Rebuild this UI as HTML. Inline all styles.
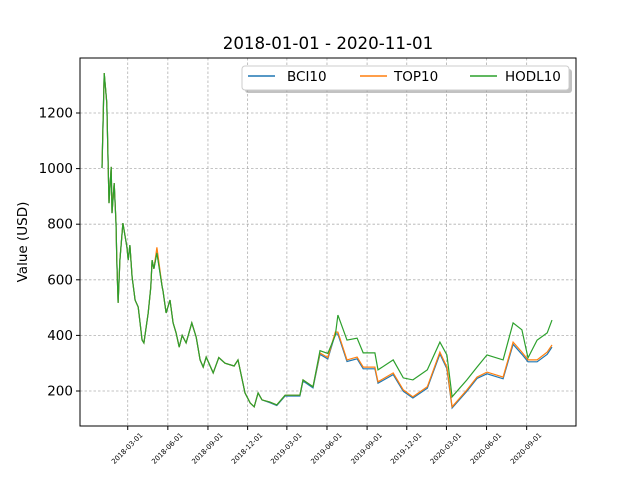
<!DOCTYPE html>
<html><head><meta charset="utf-8"><style>
body{margin:0;background:#fff;}
svg{display:block;font-family:"DejaVu Sans","Liberation Sans",sans-serif;}
</style></head><body>
<svg id="chart" width="640" height="480">
<rect width="640" height="480" fill="#fff"/>
<text x="328" y="49" font-size="16.7" text-anchor="middle">2018-01-01 - 2020-11-01</text>
<text transform="translate(27,242) rotate(-90)" font-size="13.5" text-anchor="middle">Value (USD)</text>
<g id="grid"></g><g id="series"></g><g id="axes"></g>
<g>
<rect x="245" y="69" width="327" height="24" rx="3" fill="#999" opacity="0.6"/>
<rect x="242" y="66" width="327" height="24" rx="3" fill="#fff" stroke="#ccc"/>
<line x1="248" y1="76" x2="275" y2="76" stroke="#1f77b4" stroke-width="1.5"/>
<text x="287" y="81" font-size="13.5">BCI10</text>
<line x1="360" y1="76" x2="387" y2="76" stroke="#ff7f0e" stroke-width="1.5"/>
<text x="394" y="81" font-size="13.5">TOP10</text>
<line x1="470" y1="76" x2="497" y2="76" stroke="#2ca02c" stroke-width="1.5"/>
<text x="505" y="81" font-size="13.5">HODL10</text>
</g>
</svg>
<script>
const days=[0,5,11,16,21,23,28,32,34,37,41,48,57,60,64,69,76,83,92,96,106,112,115,119,126,138,140,147,156,163,170,177,184,193,206,216,225,232,239,255,268,282,303,312,328,340,349,358,367,385,401,420,454,461,484,500,518,535,541,562,585,599,626,633,668,691,713,746,775,791,803,837,860,883,920,943,963,977,998,1021,1032];
const top10=[1002,1344,1236,876,1006,840,948,804,671,517,671,804,718,671,725,610,527,502,383,373,481,574,671,640,717,574,560,481,527,445,409,358,400,373,445,394,312,286,322,265,320,300,290,312,193,157,143,193,168,160,150,185,185,240,215,337,320,412,412,312,322,286,286,233,265,204,179,215,340,286,143,204,250,268,250,376,340,312,312,340,366];
const bci10=[1002,1344,1236,876,1006,840,948,804,671,517,671,804,718,671,725,610,527,502,383,373,481,574,671,640,700,574,560,481,527,445,409,358,400,373,445,394,312,286,322,265,320,300,290,312,193,157,143,193,168,158,148,182,182,236,211,332,315,405,405,306,316,280,280,228,259,199,175,210,333,280,139,199,245,262,244,368,332,305,305,332,358];
const hodl10=[1002,1344,1236,876,1006,840,948,804,671,517,671,804,718,671,725,610,527,502,383,373,481,574,671,640,696,574,560,481,527,445,409,358,400,373,445,394,312,286,322,265,320,300,290,312,193,157,143,193,168,160,150,185,185,240,215,345,335,400,473,383,390,337,337,276,312,247,240,276,376,330,179,240,286,330,312,445,420,319,383,409,455];
const yTicks=[200,400,600,800,1000,1200];
const xTickDays=[59,151,243,334,424,516,608,699,790,882,974];
const xTickLabels=["2018-03-01","2018-06-01","2018-09-01","2018-12-01","2019-03-01","2019-06-01","2019-09-01","2019-12-01","2020-03-01","2020-06-01","2020-09-01"];
const NS="http://www.w3.org/2000/svg";
const L=80,R=576,T=58,B=426;
function xs(d){return 102+d*0.436;}
function ys(v){return 113+(1200-v)*0.278;}
function mk(tag,attrs,parent){const e=document.createElementNS(NS,tag);for(const k in attrs)e.setAttribute(k,attrs[k]);parent.appendChild(e);return e;}
const grid=document.getElementById('grid'),axes=document.getElementById('axes'),ser=document.getElementById('series');
yTicks.forEach(v=>{const y=ys(v);
const g=mk('line',{x1:L,x2:R,y1:y,y2:y,stroke:'#b0b0b0','stroke-width':0.8,'stroke-dasharray':'2.5,2'},grid);


mk('line',{x1:L-4,x2:L,y1:y,y2:y,stroke:'#000'},axes);
const t=mk('text',{x:L-7,y:y+4.5,'font-size':13.5,'text-anchor':'end'},axes);t.textContent=v;


});
xTickDays.forEach((d,i)=>{const x=xs(d);
const g=mk('line',{x1:x,x2:x,y1:T,y2:B,stroke:'#b0b0b0','stroke-width':0.8,'stroke-dasharray':'2.5,2'},grid);


mk('line',{x1:x,x2:x,y1:B,y2:B+4,stroke:'#000'},axes);
const t=mk('text',{transform:`translate(${x+1},${B+24}) rotate(-45)`,'font-size':7,'text-anchor':'middle'},axes);t.textContent=xTickLabels[i];


});
const fr=mk('rect',{x:L,y:T,width:R-L,height:B-T,fill:'none',stroke:'#000','stroke-width':1},axes);


[[bci10,'#1f77b4','bci10-line'],[top10,'#ff7f0e','top10-line'],[hodl10,'#2ca02c','hodl10-line']].forEach(([arr,c,n])=>{
const p=mk('polyline',{points:arr.map((v,i)=>xs(days[i]).toFixed(1)+','+ys(v).toFixed(1)).join(' '),fill:'none',stroke:c,'stroke-width':1.2},ser);


});
</script>
</body></html>
